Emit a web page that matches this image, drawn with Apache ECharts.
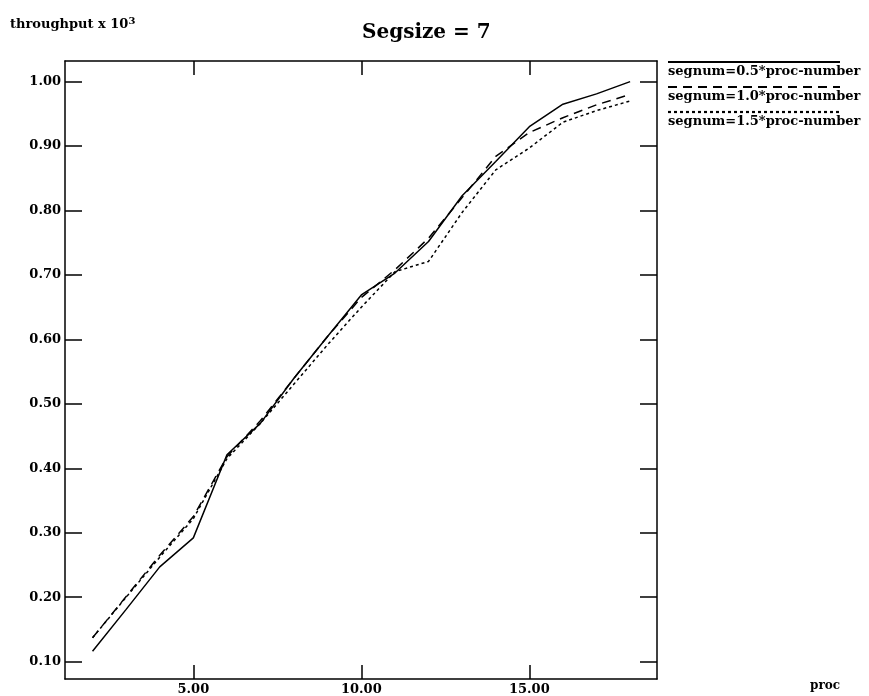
<!DOCTYPE html>
<html>
<head>
<meta charset="utf-8">
<script src="https://cdn.jsdelivr.net/npm/echarts@6/dist/echarts.min.js"></script>
<style>
html,body{margin:0;padding:0;background:#fff;}
#chart{width:869px;height:696px;}
</style>
</head>
<body>
<div id="chart"></div>
<script>
// ---- data ----
const procs = [2,3,4,5,6,7,8,9,10,11,12,13,14,15,16,17,18];
const seg05 = [0.116,0.181,0.247,0.292,0.421,0.470,0.540,0.605,0.669,0.703,0.752,0.823,0.876,0.930,0.965,0.981,1.000];
const seg10 = [0.137,0.201,0.265,0.325,0.418,0.474,0.540,0.605,0.665,0.708,0.757,0.820,0.884,0.921,0.944,0.964,0.980];
const seg15 = [0.137,0.200,0.262,0.322,0.415,0.470,0.531,0.592,0.650,0.705,0.721,0.797,0.863,0.897,0.937,0.955,0.970];
const seriesNames = ['segnum=0.5*proc-number','segnum=1.0*proc-number','segnum=1.5*proc-number'];
const xTicks = [5,10,15];
const yTicks = [0.10,0.20,0.30,0.40,0.50,0.60,0.70,0.80,0.90,1.00];
const titleText = 'Segsize = 7';
const yAxisTitle = 'throughput x 10';
const xAxisTitle = 'proc';

// ---- styles ----
const FONT = 'DejaVu Serif';
const lineDashes = [null, [9,6], [3,3]];
const seriesData = [seg05, seg10, seg15];

const chart = echarts.init(document.getElementById('chart'), null, {renderer:'canvas'});

const xMin = 1.18, xMax = 18.8, yMin = 0.073, yMax = 1.032;

function xAxisCfg(pos, showLabel){
  return {
    type:'value', position:pos, min:xMin, max:xMax,
    axisLine:{show:true, onZero:false, lineStyle:{color:'#000', width:1.5}},
    axisTick:{show:true, inside:true, length:14, customValues:xTicks, lineStyle:{color:'#000', width:1.5}},
    axisLabel:{show:showLabel, customValues:xTicks, formatter:v=>v.toFixed(2), color:'#000',
      fontFamily:FONT, fontWeight:'bold', fontSize:13, margin:4},
    splitLine:{show:false}
  };
}
function yAxisCfg(pos, showLabel){
  return {
    type:'value', position:pos, min:yMin, max:yMax,
    axisLine:{show:true, onZero:false, lineStyle:{color:'#000', width:1.5}},
    axisTick:{show:true, inside:true, length:17, customValues:yTicks, lineStyle:{color:'#000', width:1.5}},
    axisLabel:{show:showLabel, customValues:yTicks, formatter:v=>v.toFixed(2), color:'#000',
      fontFamily:FONT, fontWeight:'bold', fontSize:13, margin:4},
    splitLine:{show:false}
  };
}

const legendX = 668, legendRow0 = 62, legendRowH = 25;
const graphics = [];
seriesNames.forEach((name,i)=>{
  const y = legendRow0 + i*legendRowH;
  graphics.push({type:'line', shape:{x1:legendX, y1:y, x2:legendX+172, y2:y},
    style:{stroke:'#000', lineWidth:2.2, lineDash:lineDashes[i]||null}});
  graphics.push({type:'text', x:legendX, y:y+10,
    style:{text:name, font:'bold 13px "'+FONT+'"', fill:'#000', textVerticalAlign:'middle', verticalAlign:'middle'}});
});
graphics.push({type:'text', x:10, y:25,
  style:{text:yAxisTitle+'{sup|3}', font:'bold 13px "'+FONT+'"', fill:'#000', textVerticalAlign:'middle', verticalAlign:'middle',
    rich:{sup:{fontFamily:FONT, fontWeight:'bold', fontSize:10, verticalAlign:'top', padding:[0,0,8,0]}}}});
graphics.push({type:'text', x:825, y:686,
  style:{text:xAxisTitle, font:'bold 12px "'+FONT+'"', fill:'#000', textAlign:'center', align:'center', textVerticalAlign:'middle', verticalAlign:'middle'}});
graphics.push({type:'text', x:362, y:33,
  style:{text:titleText, font:'bold 20px "'+FONT+'"', fill:'#000', textVerticalAlign:'middle', verticalAlign:'middle'}});

chart.setOption({
  animation:false,
  backgroundColor:'#fff',
  grid:{left:65, right:212, top:61, bottom:15, containLabel:false},
  xAxis:[xAxisCfg('bottom', true), xAxisCfg('top', false)],
  yAxis:[yAxisCfg('left', true), yAxisCfg('right', false)],
  series: seriesNames.map((name,i)=>({
    name:name, type:'line', xAxisIndex:0, yAxisIndex:0,
    data: procs.map((p,j)=>[p, seriesData[i][j]]),
    showSymbol:false, symbol:'none',
    lineStyle:{color:'#000', width:1.5, type: lineDashes[i] ? lineDashes[i] : 'solid'}
  })),
  graphic: graphics
});
</script>
</body>
</html>
